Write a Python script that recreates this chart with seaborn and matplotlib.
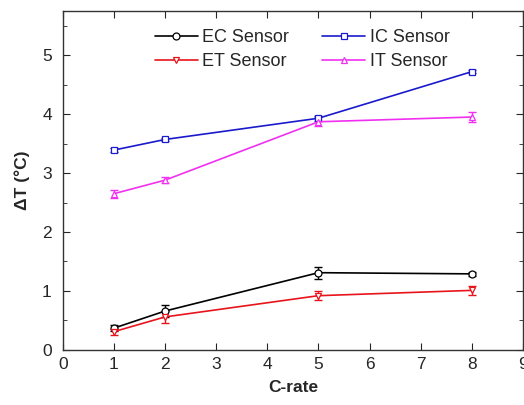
import matplotlib
matplotlib.use("Agg")
import matplotlib.pyplot as plt
import seaborn as sns
import pandas as pd
from matplotlib.ticker import MultipleLocator

c_rate = [1, 2, 5, 8]

ec_sensor = [0.37, 0.66, 1.31, 1.29]
et_sensor = [0.31, 0.56, 0.92, 1.01]
ic_sensor = [3.39, 3.57, 3.93, 4.72]
it_sensor = [2.65, 2.88, 3.87, 3.95]

ec_err = [0.05, 0.10, 0.10, 0.04]
et_err = [0.05, 0.10, 0.08, 0.08]
ic_err = [0.03, 0.03, 0.04, 0.03]
it_err = [0.07, 0.05, 0.08, 0.08]

labels = ["EC Sensor", "ET Sensor", "IC Sensor", "IT Sensor"]
colors = ["black", "#e8141b", "#1a1acc", "#f030f0"]
markers = ["o", "v", "s", "^"]


def main():
    sns.set_style("ticks")
    plt.rcParams["font.family"] = ["Liberation Sans", "DejaVu Sans"]
    plt.rcParams["xtick.direction"] = "in"
    plt.rcParams["ytick.direction"] = "in"

    fig = plt.figure(figsize=(5.24, 4.05), dpi=100)
    ax = fig.add_axes([0.120, 0.136, 0.878, 0.837])

    series = [ec_sensor, et_sensor, ic_sensor, it_sensor]
    errs = [ec_err, et_err, ic_err, it_err]
    for vals, err, lab, col, mk in zip(series, errs, labels, colors, markers):
        df = pd.DataFrame({"x": c_rate, "y": vals})
        ax.errorbar(df["x"], df["y"], yerr=err, fmt="none", ecolor=col,
                    elinewidth=1.0, capsize=3, capthick=1.0, zorder=2)
        sns.lineplot(data=df, x="x", y="y", ax=ax, color=col, marker=mk,
                     markersize=5, markerfacecolor="white", markeredgecolor=col,
                     markeredgewidth=0.9, linewidth=1.2, label=lab, zorder=3)

    ax.set_xlim(0, 9)
    ax.set_ylim(0, 5.75)
    ax.xaxis.set_major_locator(MultipleLocator(1))
    ax.yaxis.set_major_locator(MultipleLocator(1))
    ax.yaxis.set_minor_locator(MultipleLocator(0.5))
    ax.tick_params(which="both", top=True, right=True, labelsize=12.5)
    ax.tick_params(which="major", length=5)
    ax.tick_params(which="minor", length=3)
    ax.tick_params(axis="y", pad=8)
    ax.tick_params(axis="x", pad=5)
    for s in ax.spines.values():
        s.set_linewidth(1.0)
        s.set_color("#333333")

    ax.set_xlabel("C-rate", fontsize=12.5, fontweight="bold", labelpad=6)
    ax.set_ylabel("ΔT (°C)", fontsize=12.5, fontweight="bold", labelpad=9)

    ax.legend(ncol=2, loc="upper center", frameon=False, fontsize=13,
              bbox_to_anchor=(0.52, 0.995), handlelength=2.4, columnspacing=1.8,
              labelspacing=0.4, handletextpad=0.25)

    fig.savefig("out.png", dpi=100)


if __name__ == "__main__":
    main()
